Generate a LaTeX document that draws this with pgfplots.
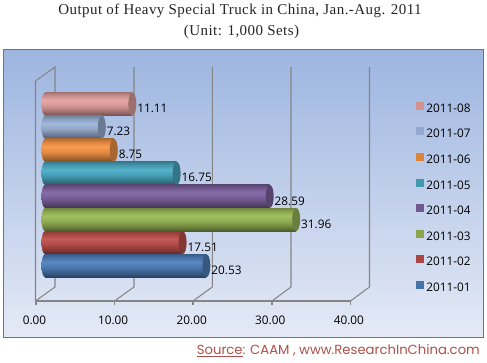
\documentclass[border=0pt]{standalone}
\usepackage{fontspec}
\usepackage{pgfplots}
\pgfplotsset{compat=1.18}
\setmainfont{Open Sans}
\newfontfamily\titlefont[LetterSpace=3]{Liberation Serif}
\newfontfamily\srcfont{Poppins}
\definecolor{gridc}{HTML}{858585}
\definecolor{srcc}{HTML}{B0504A}
\definecolor{panT}{HTML}{9DB5E0}
\definecolor{panB}{HTML}{E4EAF6}
\newcommand\mkbar[3]{%
  \definecolor{c#1}{HTML}{#2}%
  \definecolor{l#1}{HTML}{#3}%
  \pgfdeclareverticalshading{cyl#1}{100bp}{%
    color(0bp)=(c#1!50!black);
    color(25bp)=(c#1!50!black);
    color(33bp)=(c#1!68!black);
    color(46bp)=(c#1!92!black);
    color(58bp)=(c#1!94!white);
    color(68bp)=(c#1!88!black);
    color(75bp)=(c#1!72!black);
    color(100bp)=(c#1!72!black)}%
  \pgfdeclareplotmark{capL#1}{%
    \pgfpathellipse{\pgfpointorigin}{\pgfqpoint{3.5pt}{0pt}}{\pgfqpoint{0pt}{11.5pt}}%
    \pgfshadepath{cyl#1}{0}\pgfusepath{discard}}%
  \pgfdeclareplotmark{capR#1}{%
    \pgfsetfillcolor{c#1!68!black}%
    \pgfpathellipse{\pgfpointorigin}{\pgfqpoint{4pt}{0pt}}{\pgfqpoint{0pt}{11.5pt}}%
    \pgfusepathqfill}%
}
\mkbar{1}{4F81BD}{4673AA}
\mkbar{2}{C0504D}{AA4643}
\mkbar{3}{9BBB59}{89A54E}
\mkbar{4}{8064A2}{71588F}
\mkbar{5}{4BACC6}{4198AF}
\mkbar{6}{F79646}{DB843D}
\mkbar{7}{9DB4D8}{93A9CF}
\mkbar{8}{E6A3A1}{D19392}
\newcommand\ser[3]{%
  \addplot[mark=capL#1,only marks,forget plot,nodes near coords={}] coordinates {(0,#3)};
  \addplot[xbar,bar width=23pt,bar shift=0pt,draw=none,shade,shading=cyl#1,mark=capR#1,
    legend image code/.code={%
      \pgfsetfillcolor{l#1}%
      \pgfpathrectangle{\pgfqpoint{-1pt}{-2pt}}{\pgfqpoint{8pt}{8pt}}\pgfusepathqfill
      \pgfpathrectangle{\pgfqpoint{-1pt}{-2pt}}{\pgfqpoint{10.7pt}{8pt}}\pgfusepath{discard}%
    }]
    coordinates {(#2,#3)};
}
\begin{document}
\begin{tikzpicture}[x=1pt,y=-1pt]
\useasboundingbox (0,0) rectangle (487,363);
\fill[white] (0,0) rectangle (487,363);
\shade[top color=panT,bottom color=panB] (3.5,49.5) rectangle (483.5,337.3);
\draw[gray!90!black,line width=1pt] (3.5,49.5) rectangle (483.5,337.3);
\begin{scope}[gridc,line width=1.05pt]
\draw (35.5,301) -- (35.5,81) -- (55,67) -- (55,287) -- (35.5,301);
\foreach \b/\f in {134/114.5,212.3/193,291/272,369.5/350.5}{
  \draw (\b,67) -- (\b,287) -- (\f,301);
}
\draw (35.5,301) -- (350.5,301);
\foreach \f in {36,114.5,193,272,350.5}{\draw (\f,301) -- (\f,305);}
\end{scope}
\begin{axis}[
  at={(45pt,-301pt)},anchor=south west,
  scale only axis,width=314.4pt,height=220pt,
  xmin=0,xmax=40,ymin=-0.528,ymax=8.996,
  clip=false,
  axis line style={draw=none},
  major tick length=0pt,
  xtick={0,10,20,30,40},ytick=\empty,
  tick style={draw=none},
  /pgf/number format/assume math mode=true,
  /pgf/number format/fixed,/pgf/number format/zerofill,/pgf/number format/precision=2,
  xticklabel style={font=\fontsize{11.8}{13}\selectfont,anchor=center,xshift=-10.5pt,yshift=-19pt,inner sep=0pt,text=black},
  point meta=x,
  nodes near coords={\pgfmathprintnumber[fixed,zerofill,precision=2,assume math mode=true]{\pgfplotspointmeta}},
  every node near coord/.style={font=\fontsize{11.8}{13}\selectfont,anchor=west,inner sep=0pt,xshift=4.8pt,yshift=-4.5pt,text=black},
  legend style={at={(axis cs:47.13,8.10)},anchor=north west,draw=none,fill=none,
    font=\fontsize{11.8}{13}\selectfont,row sep=15.1pt,inner sep=0pt,
    nodes={inner sep=0pt,text height=9pt,text depth=0pt}},
  legend cell align=left,
]
\ser{8}{11.11}{8}
\addlegendentry{2011-08}
\ser{7}{7.23}{7}
\addlegendentry{2011-07}
\ser{6}{8.75}{6}
\addlegendentry{2011-06}
\ser{5}{16.75}{5}
\addlegendentry{2011-05}
\ser{4}{28.59}{4}
\addlegendentry{2011-04}
\ser{3}{31.96}{3}
\addlegendentry{2011-03}
\ser{2}{17.51}{2}
\addlegendentry{2011-02}
\ser{1}{20.53}{1}
\addlegendentry{2011-01}
\end{axis}
\node[font=\titlefont\fontsize{15}{17}\selectfont,text=black!85,inner sep=0pt] at (240,10.5) {Output of Heavy Special Truck in China, Jan.-Aug. 2011};
\node[font=\titlefont\fontsize{15}{17}\selectfont,text=black!85,inner sep=0pt] at (241.5,32) {(Unit: 1,000 Sets)};
\node[font=\srcfont\fontsize{13.2}{15}\selectfont,text=srcc,inner sep=0pt,anchor=east] at (480,350.5) {\underline{Source}: CAAM , www.ResearchInChina.com};
\end{tikzpicture}
\end{document}
